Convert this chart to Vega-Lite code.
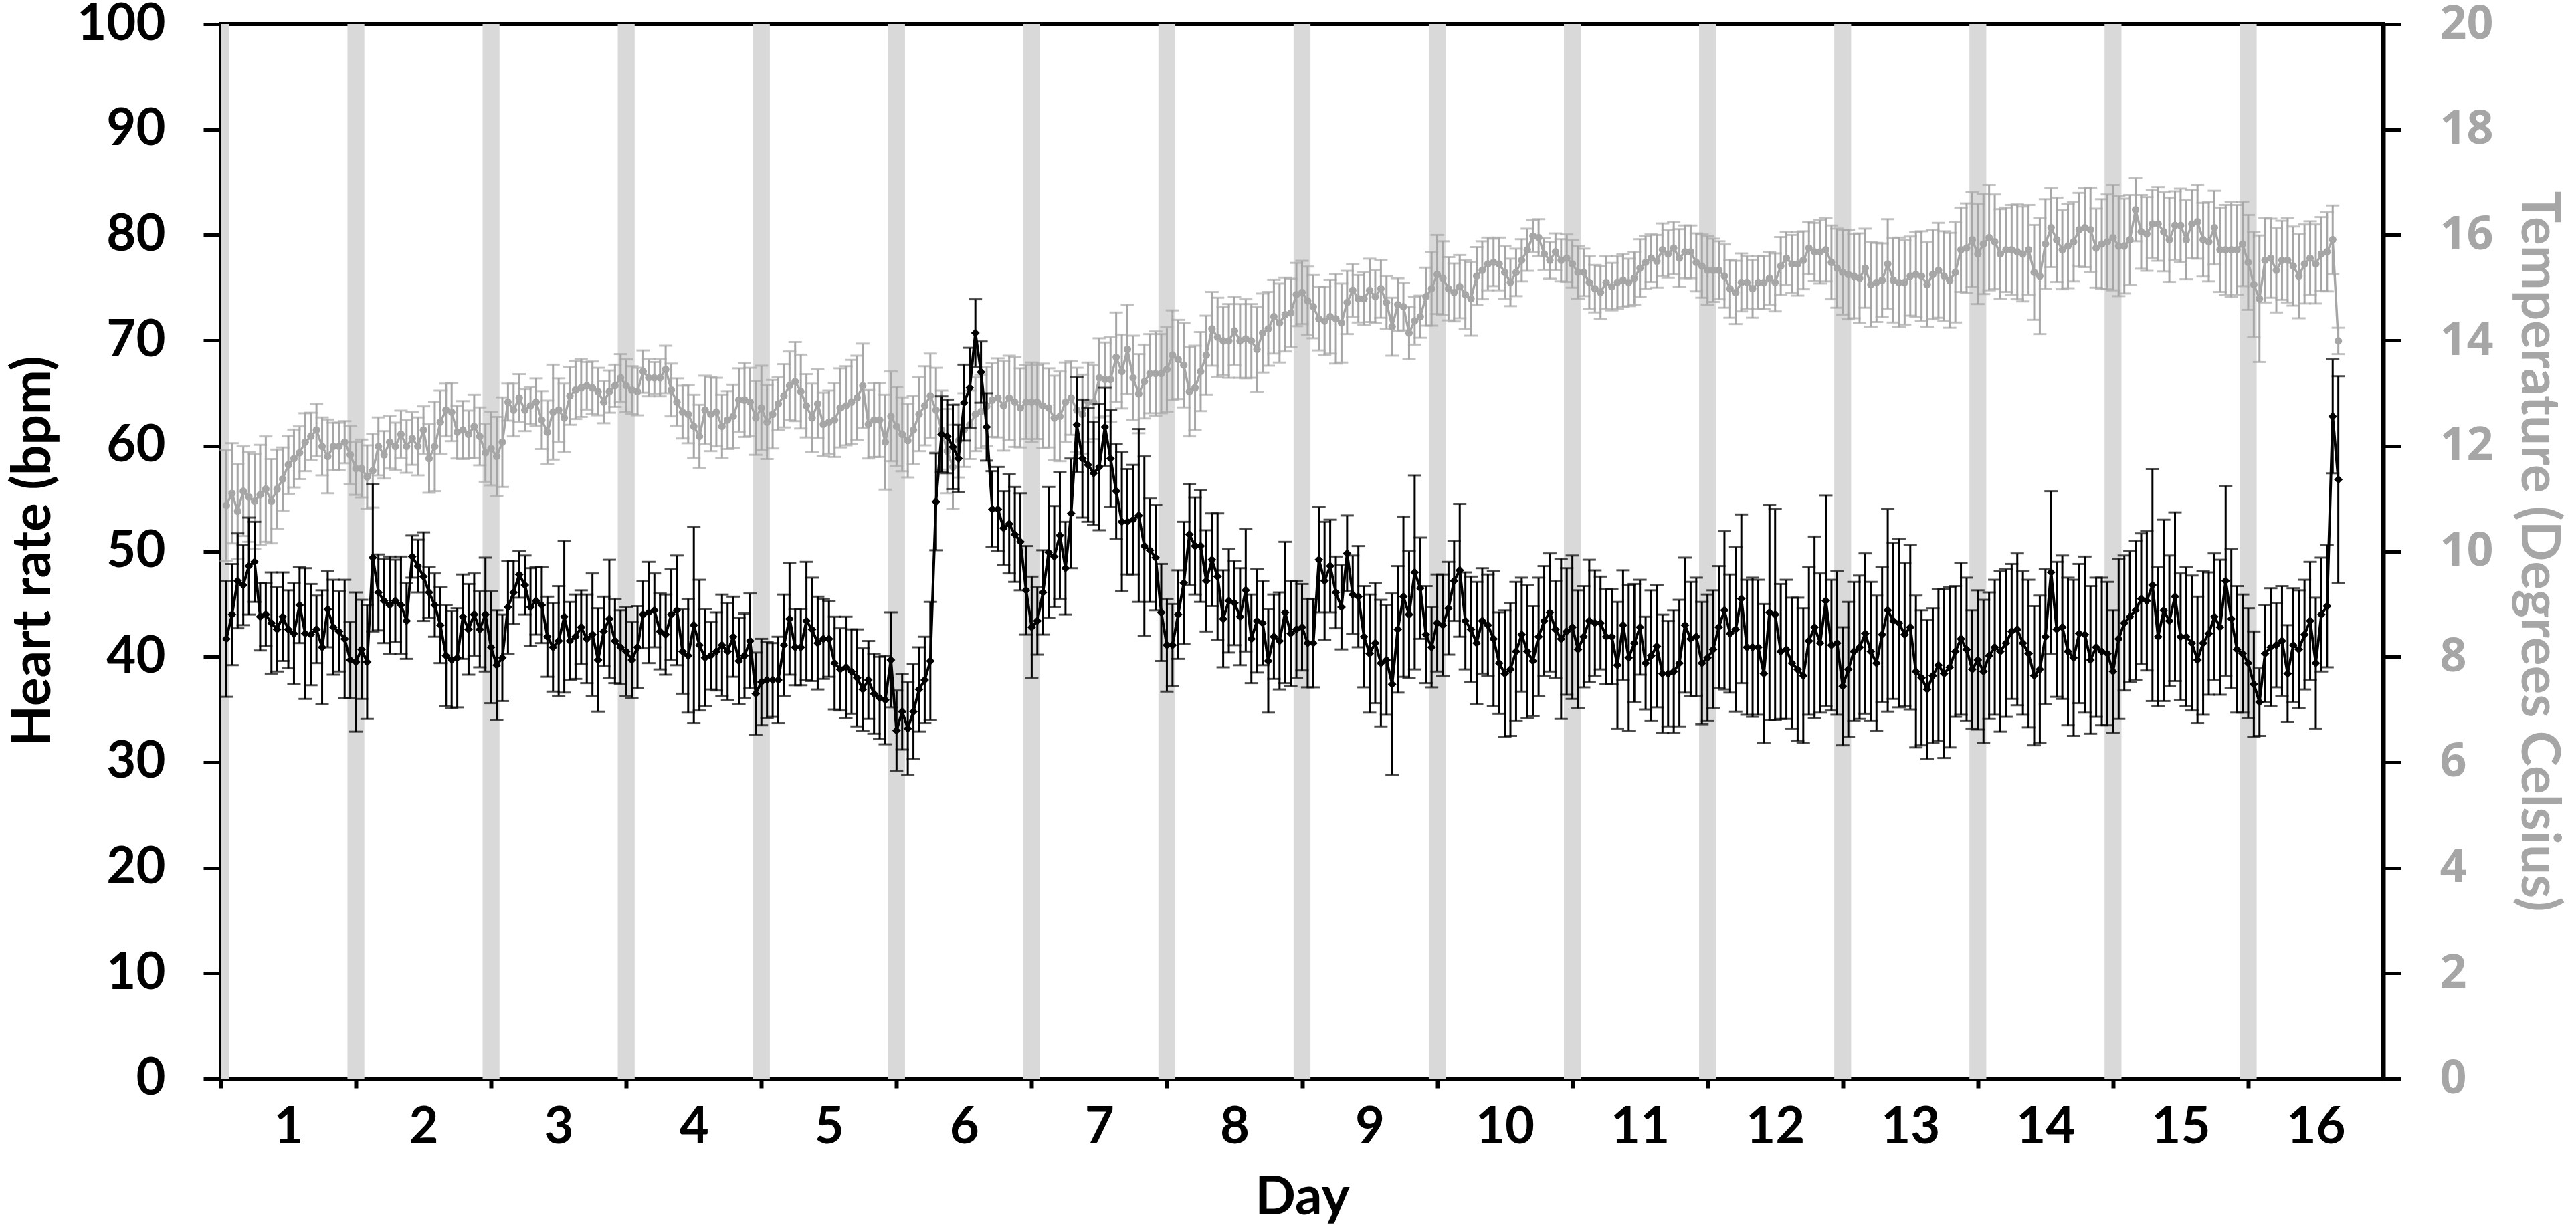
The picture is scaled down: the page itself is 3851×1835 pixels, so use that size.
{
  "$schema": "https://vega.github.io/schema/vega-lite/v6.json",
  "width": 3233,
  "height": 1577,
  "autosize": "none",
  "padding": {"left": 330, "top": 36, "right": 288, "bottom": 222},
  "background": "#ffffff",
  "config": {
    "view": {"stroke": "#000000", "strokeWidth": 6},
    "font": "Lato"
  },
  "data": {
    "values": [
      {"h":1,"hr":41.7,"he":5.5,"t":10.87,"te":1.05},{"h":2,"hr":44.0,"he":4.8,"t":11.1,"te":0.95},{"h":3,"hr":47.2,"he":4.5,"t":10.76,"te":0.9},{"h":4,"hr":46.8,"he":3.8,"t":11.14,"te":0.85},
      {"h":5,"hr":48.6,"he":4.6,"t":11.03,"te":0.85},{"h":6,"hr":49.0,"he":3.8,"t":10.95,"te":0.9},{"h":7,"hr":43.8,"he":3.2,"t":11.07,"te":0.95},{"h":8,"hr":44.0,"he":3.0,"t":11.18,"te":1.0},
      {"h":9,"hr":43.2,"he":4.8,"t":10.95,"te":0.8},{"h":10,"hr":42.6,"he":4.0,"t":11.18,"te":0.75},{"h":11,"hr":43.8,"he":4.2,"t":11.37,"te":0.6},{"h":12,"hr":42.6,"he":3.7,"t":11.64,"te":0.55},
      {"h":13,"hr":42.2,"he":4.8,"t":11.76,"te":0.55},{"h":14,"hr":44.9,"he":3.6,"t":11.87,"te":0.5},{"h":15,"hr":42.2,"he":6.2,"t":12.07,"te":0.55},{"h":16,"hr":42.1,"he":4.8,"t":12.18,"te":0.45},
      {"h":17,"hr":42.6,"he":3.2,"t":12.3,"te":0.5},{"h":18,"hr":40.9,"he":5.4,"t":11.99,"te":0.55},{"h":19,"hr":44.5,"he":3.6,"t":11.8,"te":0.7},{"h":20,"hr":42.8,"he":4.5,"t":11.99,"te":0.45},
      {"h":21,"hr":42.4,"he":3.8,"t":11.99,"te":0.45},{"h":22,"hr":41.7,"he":5.6,"t":12.07,"te":0.4},{"h":23,"hr":39.7,"he":3.6,"t":11.83,"te":0.55},{"h":24,"hr":39.5,"he":6.6,"t":11.57,"te":0.5},
      {"h":25,"hr":40.7,"he":4.7,"t":11.57,"te":0.55},{"h":26,"hr":39.5,"he":5.4,"t":11.41,"te":0.6},{"h":27,"hr":49.4,"he":7.0,"t":11.53,"te":0.7},{"h":28,"hr":46.1,"he":3.6,"t":11.99,"te":0.55},
      {"h":29,"hr":45.3,"he":4.0,"t":11.83,"te":0.45},{"h":30,"hr":44.9,"he":4.6,"t":12.07,"te":0.5},{"h":31,"hr":45.3,"he":3.9,"t":11.99,"te":0.45},{"h":32,"hr":44.9,"he":4.6,"t":12.22,"te":0.45},
      {"h":33,"hr":43.4,"he":3.6,"t":11.99,"te":0.5},{"h":34,"hr":49.5,"he":2.0,"t":12.14,"te":0.5},{"h":35,"hr":48.6,"he":2.5,"t":11.99,"te":0.55},{"h":36,"hr":47.6,"he":4.2,"t":12.3,"te":0.45},
      {"h":37,"hr":46.1,"he":2.4,"t":11.76,"te":0.65},{"h":38,"hr":44.9,"he":3.0,"t":11.99,"te":0.85},{"h":39,"hr":43.0,"he":3.6,"t":12.45,"te":0.6},{"h":40,"hr":40.1,"he":4.8,"t":12.68,"te":0.5},
      {"h":41,"hr":39.7,"he":4.6,"t":12.64,"te":0.55},{"h":42,"hr":39.9,"he":4.7,"t":12.26,"te":0.5},{"h":43,"hr":43.8,"he":4.0,"t":12.3,"te":0.55},{"h":44,"hr":42.6,"he":4.3,"t":12.22,"te":0.45},
      {"h":45,"hr":44.0,"he":3.9,"t":12.37,"te":0.6},{"h":46,"hr":42.6,"he":3.6,"t":12.18,"te":0.55},{"h":47,"hr":44.0,"he":5.4,"t":11.87,"te":0.55},{"h":48,"hr":40.9,"he":5.3,"t":11.95,"te":0.7},
      {"h":49,"hr":39.2,"he":5.2,"t":11.8,"te":0.75},{"h":50,"hr":39.9,"he":4.1,"t":12.07,"te":0.85},{"h":51,"hr":44.7,"he":4.4,"t":12.83,"te":0.35},{"h":52,"hr":46.1,"he":3.0,"t":12.68,"te":0.5},
      {"h":53,"hr":47.8,"he":2.2,"t":12.91,"te":0.45},{"h":54,"hr":46.8,"he":2.8,"t":12.68,"te":0.4},{"h":55,"hr":44.7,"he":3.7,"t":12.76,"te":0.35},{"h":56,"hr":45.3,"he":3.2,"t":12.83,"te":0.45},
      {"h":57,"hr":44.9,"he":3.6,"t":12.49,"te":0.55},{"h":58,"hr":41.9,"he":3.8,"t":12.26,"te":0.6},{"h":59,"hr":40.9,"he":4.2,"t":12.64,"te":0.9},{"h":60,"hr":41.5,"he":5.2,"t":12.68,"te":0.6},
      {"h":61,"hr":43.8,"he":7.2,"t":12.53,"te":0.65},{"h":62,"hr":41.5,"he":3.7,"t":12.95,"te":0.55},{"h":63,"hr":41.9,"he":4.0,"t":13.06,"te":0.55},{"h":64,"hr":42.8,"he":3.5,"t":13.1,"te":0.55},
      {"h":65,"hr":41.7,"he":4.2,"t":13.14,"te":0.45},{"h":66,"hr":42.1,"he":5.8,"t":13.1,"te":0.5},{"h":67,"hr":39.7,"he":4.9,"t":13.03,"te":0.45},{"h":68,"hr":42.4,"he":3.3,"t":12.83,"te":0.4},
      {"h":69,"hr":43.6,"he":5.6,"t":13.03,"te":0.4},{"h":70,"hr":41.5,"he":4.0,"t":13.14,"te":0.4},{"h":71,"hr":40.9,"he":3.5,"t":13.29,"te":0.45},{"h":72,"hr":40.5,"he":4.2,"t":13.14,"te":0.5},
      {"h":73,"hr":39.7,"he":3.6,"t":13.06,"te":0.45},{"h":74,"hr":40.9,"he":3.9,"t":13.03,"te":0.45},{"h":75,"hr":44.0,"he":3.2,"t":13.41,"te":0.4},{"h":76,"hr":44.2,"he":4.8,"t":13.29,"te":0.35},
      {"h":77,"hr":44.4,"he":3.5,"t":13.29,"te":0.3},{"h":78,"hr":42.4,"he":3.6,"t":13.29,"te":0.35},{"h":79,"hr":42.1,"he":3.8,"t":13.45,"te":0.45},{"h":80,"hr":44.0,"he":4.3,"t":13.06,"te":0.5},
      {"h":81,"hr":44.4,"he":5.2,"t":12.83,"te":0.45},{"h":82,"hr":40.5,"he":4.0,"t":12.64,"te":0.5},{"h":83,"hr":40.1,"he":5.4,"t":12.6,"te":0.55},{"h":84,"hr":43.0,"he":9.3,"t":12.37,"te":0.6},
      {"h":85,"hr":41.1,"he":6.2,"t":12.18,"te":0.6},{"h":86,"hr":39.9,"he":4.6,"t":12.68,"te":0.65},{"h":87,"hr":40.1,"he":3.2,"t":12.6,"te":0.7},{"h":88,"hr":40.5,"he":3.7,"t":12.64,"te":0.65},
      {"h":89,"hr":41.1,"he":4.8,"t":12.37,"te":0.6},{"h":90,"hr":40.5,"he":4.6,"t":12.49,"te":0.55},{"h":91,"hr":41.9,"he":3.8,"t":12.56,"te":0.6},{"h":92,"hr":39.6,"he":4.1,"t":12.87,"te":0.6},
      {"h":93,"hr":40.1,"he":4.0,"t":12.87,"te":0.7},{"h":94,"hr":41.5,"he":4.5,"t":12.83,"te":0.65},{"h":95,"hr":36.5,"he":3.9,"t":12.53,"te":0.7},{"h":96,"hr":37.6,"he":4.1,"t":12.72,"te":0.8},
      {"h":97,"hr":37.8,"he":3.6,"t":12.45,"te":0.7},{"h":98,"hr":37.8,"he":3.5,"t":12.6,"te":0.65},{"h":99,"hr":37.8,"he":4.1,"t":12.8,"te":0.5},{"h":100,"hr":41.1,"he":4.8,"t":12.95,"te":0.6},
      {"h":101,"hr":43.6,"he":5.3,"t":13.14,"te":0.65},{"h":102,"hr":40.9,"he":3.6,"t":13.22,"te":0.75},{"h":103,"hr":40.9,"he":3.6,"t":13.03,"te":0.7},{"h":104,"hr":43.4,"he":5.6,"t":12.76,"te":0.6},
      {"h":105,"hr":42.6,"he":4.9,"t":12.53,"te":0.65},{"h":106,"hr":41.3,"he":4.4,"t":12.8,"te":0.65},{"h":107,"hr":41.7,"he":3.8,"t":12.41,"te":0.6},{"h":108,"hr":41.7,"he":3.6,"t":12.45,"te":0.6},
      {"h":109,"hr":39.4,"he":4.4,"t":12.49,"te":0.7},{"h":110,"hr":38.8,"he":3.9,"t":12.72,"te":0.75},{"h":111,"hr":39.0,"he":4.8,"t":12.76,"te":0.75},{"h":112,"hr":38.6,"he":4.0,"t":12.83,"te":0.8},
      {"h":113,"hr":38.0,"he":4.6,"t":12.91,"te":0.8},{"h":114,"hr":36.9,"he":3.9,"t":13.14,"te":0.8},{"h":115,"hr":37.8,"he":3.7,"t":12.41,"te":0.65},{"h":116,"hr":36.5,"he":3.8,"t":12.49,"te":0.7},
      {"h":117,"hr":36.1,"he":3.9,"t":12.49,"te":0.7},{"h":118,"hr":35.9,"he":4.2,"t":12.07,"te":0.9},{"h":119,"hr":39.7,"he":4.5,"t":12.56,"te":0.85},{"h":120,"hr":33.0,"he":3.8,"t":12.37,"te":0.75},
      {"h":121,"hr":34.8,"he":3.6,"t":12.22,"te":0.7},{"h":122,"hr":33.2,"he":4.4,"t":12.1,"te":0.7},{"h":123,"hr":34.8,"he":4.5,"t":12.3,"te":0.65},{"h":124,"hr":36.9,"he":4.0,"t":12.6,"te":0.7},
      {"h":125,"hr":37.8,"he":4.1,"t":12.76,"te":0.75},{"h":126,"hr":39.6,"he":5.6,"t":12.95,"te":0.8},{"h":127,"hr":54.7,"he":4.6,"t":12.68,"te":0.8},{"h":128,"hr":61.1,"he":3.6,"t":12.3,"te":0.75},
      {"h":129,"hr":60.9,"he":3.5,"t":11.9,"te":0.8},{"h":130,"hr":59.9,"he":4.0,"t":11.6,"te":0.8},{"h":131,"hr":58.8,"he":3.2,"t":12.1,"te":0.7},{"h":132,"hr":64.1,"he":3.6,"t":12.3,"te":0.7},
      {"h":133,"hr":65.5,"he":3.8,"t":12.4,"te":0.65},{"h":134,"hr":70.7,"he":3.2,"t":12.6,"te":0.7},{"h":135,"hr":67.0,"he":2.9,"t":12.65,"te":0.7},{"h":136,"hr":61.8,"he":3.2,"t":12.75,"te":0.75},
      {"h":137,"hr":54.0,"he":3.6,"t":12.87,"te":0.7},{"h":138,"hr":54.0,"he":4.0,"t":12.91,"te":0.75},{"h":139,"hr":52.2,"he":3.5,"t":12.76,"te":0.85},{"h":140,"hr":52.6,"he":4.7,"t":12.91,"te":0.8},
      {"h":141,"hr":51.6,"he":4.5,"t":12.83,"te":0.85},{"h":142,"hr":50.9,"he":4.6,"t":12.72,"te":0.75},{"h":143,"hr":46.3,"he":4.2,"t":12.83,"te":0.7},{"h":144,"hr":42.8,"he":4.8,"t":12.83,"te":0.75},
      {"h":145,"hr":43.4,"he":3.2,"t":12.83,"te":0.7},{"h":146,"hr":46.1,"he":4.0,"t":12.76,"te":0.8},{"h":147,"hr":49.9,"he":6.2,"t":12.72,"te":0.75},{"h":148,"hr":49.5,"he":4.8,"t":12.53,"te":0.8},
      {"h":149,"hr":51.5,"he":6.0,"t":12.56,"te":0.85},{"h":150,"hr":48.4,"he":4.4,"t":12.83,"te":0.75},{"h":151,"hr":53.6,"he":5.2,"t":12.91,"te":0.7},{"h":152,"hr":62.0,"he":4.5,"t":12.68,"te":0.8},
      {"h":153,"hr":58.8,"he":5.6,"t":12.6,"te":0.75},{"h":154,"hr":58.2,"he":5.4,"t":12.83,"te":0.75},{"h":155,"hr":57.4,"he":4.9,"t":12.83,"te":0.7},{"h":156,"hr":58.0,"he":6.0,"t":13.29,"te":0.75},
      {"h":157,"hr":61.8,"he":3.7,"t":13.26,"te":0.7},{"h":158,"hr":58.8,"he":4.6,"t":13.26,"te":0.8},{"h":159,"hr":55.7,"he":4.5,"t":13.68,"te":0.85},{"h":160,"hr":52.8,"he":6.6,"t":13.41,"te":0.7},
      {"h":161,"hr":52.8,"he":5.0,"t":13.83,"te":0.85},{"h":162,"hr":53.0,"he":5.2,"t":13.29,"te":0.8},{"h":163,"hr":53.4,"he":8.2,"t":12.99,"te":0.75},{"h":164,"hr":50.5,"he":8.5,"t":13.22,"te":0.7},
      {"h":165,"hr":50.1,"he":4.9,"t":13.37,"te":0.75},{"h":166,"hr":49.4,"he":5.0,"t":13.37,"te":0.8},{"h":167,"hr":44.2,"he":4.6,"t":13.37,"te":0.75},{"h":168,"hr":41.1,"he":4.4,"t":13.45,"te":0.8},
      {"h":169,"hr":41.1,"he":3.9,"t":13.72,"te":0.85},{"h":170,"hr":44.0,"he":4.2,"t":13.64,"te":0.75},{"h":171,"hr":47.0,"he":5.8,"t":13.53,"te":0.8},{"h":172,"hr":51.6,"he":4.8,"t":13.03,"te":0.85},
      {"h":173,"hr":50.5,"he":4.6,"t":13.1,"te":0.8},{"h":174,"hr":50.5,"he":5.3,"t":13.41,"te":0.75},{"h":175,"hr":47.2,"he":4.8,"t":13.72,"te":0.75},{"h":176,"hr":49.2,"he":4.4,"t":14.22,"te":0.7},
      {"h":177,"hr":47.6,"he":6.0,"t":14.06,"te":0.75},{"h":178,"hr":43.6,"he":4.6,"t":13.99,"te":0.65},{"h":179,"hr":45.3,"he":4.9,"t":13.99,"te":0.7},{"h":180,"hr":45.1,"he":4.0,"t":14.18,"te":0.65},
      {"h":181,"hr":43.8,"he":4.6,"t":13.99,"te":0.7},{"h":182,"hr":46.3,"he":5.8,"t":14.03,"te":0.75},{"h":183,"hr":41.7,"he":4.2,"t":13.99,"te":0.7},{"h":184,"hr":43.4,"he":4.9,"t":13.83,"te":0.8},
      {"h":185,"hr":43.2,"he":4.0,"t":14.14,"te":0.75},{"h":186,"hr":39.6,"he":4.9,"t":14.22,"te":0.7},{"h":187,"hr":41.9,"he":4.0,"t":14.45,"te":0.7},{"h":188,"hr":41.5,"he":4.6,"t":14.33,"te":0.75},
      {"h":189,"hr":44.2,"he":6.7,"t":14.49,"te":0.7},{"h":190,"hr":42.2,"he":5.0,"t":14.52,"te":0.65},{"h":191,"hr":42.6,"he":4.6,"t":14.87,"te":0.6},{"h":192,"hr":42.8,"he":4.1,"t":14.91,"te":0.6},
      {"h":193,"hr":41.3,"he":4.2,"t":14.75,"te":0.65},{"h":194,"hr":41.3,"he":4.2,"t":14.64,"te":0.6},{"h":195,"hr":49.2,"he":5.0,"t":14.41,"te":0.6},{"h":196,"hr":47.2,"he":5.6,"t":14.37,"te":0.65},
      {"h":197,"hr":48.6,"he":4.4,"t":14.45,"te":0.7},{"h":198,"hr":46.1,"he":3.4,"t":14.41,"te":0.85},{"h":199,"hr":44.7,"he":4.0,"t":14.33,"te":0.75},{"h":200,"hr":49.8,"he":3.6,"t":14.72,"te":0.6},
      {"h":201,"hr":45.9,"he":3.7,"t":14.95,"te":0.5},{"h":202,"hr":45.7,"he":4.8,"t":14.79,"te":0.45},{"h":203,"hr":41.9,"he":4.8,"t":14.79,"te":0.5},{"h":204,"hr":40.3,"he":5.6,"t":14.95,"te":0.6},
      {"h":205,"hr":41.3,"he":5.7,"t":14.83,"te":0.5},{"h":206,"hr":39.4,"he":6.0,"t":14.98,"te":0.55},{"h":207,"hr":39.7,"he":5.2,"t":14.72,"te":0.5},{"h":208,"hr":37.4,"he":8.6,"t":14.26,"te":0.55},
      {"h":209,"hr":42.6,"he":6.0,"t":14.68,"te":0.5},{"h":210,"hr":45.7,"he":7.6,"t":14.64,"te":0.45},{"h":211,"hr":44.0,"he":6.0,"t":14.14,"te":0.5},{"h":212,"hr":48.0,"he":9.2,"t":14.37,"te":0.45},
      {"h":213,"hr":46.5,"he":4.8,"t":14.45,"te":0.4},{"h":214,"hr":42.1,"he":4.6,"t":14.83,"te":0.55},{"h":215,"hr":40.9,"he":3.8,"t":14.98,"te":0.7},{"h":216,"hr":43.2,"he":4.6,"t":15.25,"te":0.75},
      {"h":217,"hr":43.0,"he":4.8,"t":15.18,"te":0.7},{"h":218,"hr":44.6,"he":4.4,"t":14.98,"te":0.6},{"h":219,"hr":47.2,"he":3.8,"t":14.91,"te":0.55},{"h":220,"hr":48.2,"he":6.3,"t":15.02,"te":0.6},
      {"h":221,"hr":43.4,"he":4.6,"t":14.87,"te":0.65},{"h":222,"hr":42.6,"he":5.0,"t":14.79,"te":0.7},{"h":223,"hr":41.3,"he":5.8,"t":15.22,"te":0.55},{"h":224,"hr":43.4,"he":5.0,"t":15.33,"te":0.55},
      {"h":225,"hr":43.0,"he":4.8,"t":15.45,"te":0.5},{"h":226,"hr":41.7,"he":6.4,"t":15.48,"te":0.45},{"h":227,"hr":39.4,"he":4.8,"t":15.45,"te":0.5},{"h":228,"hr":38.4,"he":6.0,"t":15.29,"te":0.5},
      {"h":229,"hr":38.8,"he":6.3,"t":15.1,"te":0.45},{"h":230,"hr":40.5,"he":6.6,"t":15.29,"te":0.45},{"h":231,"hr":42.1,"he":5.4,"t":15.52,"te":0.4},{"h":232,"hr":40.5,"he":6.3,"t":15.72,"te":0.4},
      {"h":233,"hr":39.6,"he":5.2,"t":15.98,"te":0.3},{"h":234,"hr":41.9,"he":5.6,"t":15.95,"te":0.35},{"h":235,"hr":43.4,"he":5.2,"t":15.64,"te":0.3},{"h":236,"hr":44.2,"he":5.6,"t":15.52,"te":0.35},
      {"h":237,"hr":42.6,"he":4.6,"t":15.68,"te":0.35},{"h":238,"hr":41.7,"he":7.6,"t":15.52,"te":0.4},{"h":239,"hr":42.4,"he":6.0,"t":15.56,"te":0.45},{"h":240,"hr":42.8,"he":6.8,"t":15.45,"te":0.45},
      {"h":241,"hr":40.7,"he":5.6,"t":15.29,"te":0.5},{"h":242,"hr":41.9,"he":4.8,"t":15.29,"te":0.45},{"h":243,"hr":43.4,"he":5.8,"t":15.1,"te":0.5},{"h":244,"hr":43.2,"he":5.0,"t":14.98,"te":0.45},
      {"h":245,"hr":43.2,"he":4.4,"t":14.91,"te":0.5},{"h":246,"hr":41.9,"he":4.5,"t":15.1,"te":0.5},{"h":247,"hr":41.9,"he":4.5,"t":15.02,"te":0.45},{"h":248,"hr":39.2,"he":6.0,"t":15.1,"te":0.5},
      {"h":249,"hr":43.0,"he":5.2,"t":15.14,"te":0.5},{"h":250,"hr":39.9,"he":6.9,"t":15.1,"te":0.45},{"h":251,"hr":41.3,"he":5.6,"t":15.18,"te":0.5},{"h":252,"hr":42.8,"he":4.5,"t":15.37,"te":0.55},
      {"h":253,"hr":39.4,"he":4.4,"t":15.48,"te":0.5},{"h":254,"hr":40.1,"he":6.2,"t":15.56,"te":0.45},{"h":255,"hr":41.0,"he":5.8,"t":15.5,"te":0.5},{"h":256,"hr":38.4,"he":5.6,"t":15.72,"te":0.5},
      {"h":257,"hr":38.4,"he":5.0,"t":15.64,"te":0.45},{"h":258,"hr":38.6,"he":5.8,"t":15.75,"te":0.5},{"h":259,"hr":39.4,"he":6.0,"t":15.56,"te":0.55},{"h":260,"hr":43.0,"he":6.4,"t":15.68,"te":0.5},
      {"h":261,"hr":41.7,"he":5.4,"t":15.68,"te":0.5},{"h":262,"hr":41.9,"he":5.6,"t":15.48,"te":0.55},{"h":263,"hr":39.4,"he":5.8,"t":15.41,"te":0.6},{"h":264,"hr":39.9,"he":6.0,"t":15.33,"te":0.65},
      {"h":265,"hr":40.7,"he":5.6,"t":15.33,"te":0.6},{"h":266,"hr":42.8,"he":5.8,"t":15.33,"te":0.55},{"h":267,"hr":44.4,"he":7.5,"t":15.22,"te":0.6},{"h":268,"hr":42.2,"he":5.6,"t":14.98,"te":0.55},
      {"h":269,"hr":42.6,"he":7.8,"t":14.91,"te":0.6},{"h":270,"hr":45.5,"he":8.0,"t":15.1,"te":0.55},{"h":271,"hr":40.9,"he":6.4,"t":15.1,"te":0.5},{"h":272,"hr":40.9,"he":6.6,"t":14.98,"te":0.55},
      {"h":273,"hr":40.9,"he":6.4,"t":15.1,"te":0.5},{"h":274,"hr":38.4,"he":6.6,"t":15.1,"te":0.5},{"h":275,"hr":44.2,"he":10.2,"t":15.18,"te":0.5},{"h":276,"hr":44.0,"he":10.0,"t":15.1,"te":0.55},
      {"h":277,"hr":40.5,"he":6.4,"t":15.41,"te":0.55},{"h":278,"hr":40.7,"he":6.6,"t":15.56,"te":0.5},{"h":279,"hr":39.4,"he":6.2,"t":15.45,"te":0.55},{"h":280,"hr":38.8,"he":6.8,"t":15.45,"te":0.6},
      {"h":281,"hr":38.2,"he":6.4,"t":15.52,"te":0.55},{"h":282,"hr":41.5,"he":7.0,"t":15.75,"te":0.5},{"h":283,"hr":42.8,"he":8.6,"t":15.68,"te":0.55},{"h":284,"hr":41.3,"he":6.6,"t":15.68,"te":0.6},
      {"h":285,"hr":45.3,"he":10.0,"t":15.72,"te":0.6},{"h":286,"hr":41.1,"he":6.2,"t":15.48,"te":0.7},{"h":287,"hr":41.3,"he":6.8,"t":15.37,"te":0.75},{"h":288,"hr":37.2,"he":5.6,"t":15.29,"te":0.8},
      {"h":289,"hr":38.8,"he":6.4,"t":15.25,"te":0.85},{"h":290,"hr":40.5,"he":6.6,"t":15.22,"te":0.8},{"h":291,"hr":40.9,"he":6.8,"t":15.18,"te":0.85},{"h":292,"hr":42.2,"he":7.6,"t":15.37,"te":0.75},
      {"h":293,"hr":40.5,"he":6.6,"t":15.06,"te":0.8},{"h":294,"hr":39.4,"he":6.4,"t":15.1,"te":0.75},{"h":295,"hr":42.1,"he":6.4,"t":15.14,"te":0.7},{"h":296,"hr":44.4,"he":9.6,"t":15.45,"te":0.85},
      {"h":297,"hr":43.4,"he":7.4,"t":15.14,"te":0.8},{"h":298,"hr":43.2,"he":8.0,"t":15.1,"te":0.85},{"h":299,"hr":42.1,"he":6.8,"t":15.1,"te":0.8},{"h":300,"hr":42.8,"he":7.8,"t":15.22,"te":0.75},
      {"h":301,"hr":38.6,"he":7.2,"t":15.25,"te":0.8},{"h":302,"hr":38.0,"he":6.4,"t":15.22,"te":0.85},{"h":303,"hr":36.9,"he":6.6,"t":15.06,"te":0.8},{"h":304,"hr":38.2,"he":6.4,"t":15.25,"te":0.85},
      {"h":305,"hr":39.2,"he":7.2,"t":15.33,"te":0.9},{"h":306,"hr":38.4,"he":8.0,"t":15.22,"te":0.85},{"h":307,"hr":39.0,"he":7.6,"t":15.14,"te":0.9},{"h":308,"hr":40.5,"he":6.2,"t":15.29,"te":0.95},
      {"h":309,"hr":41.7,"he":7.2,"t":15.72,"te":0.8},{"h":310,"hr":40.7,"he":6.8,"t":15.75,"te":0.85},{"h":311,"hr":38.8,"he":5.6,"t":15.91,"te":0.9},{"h":312,"hr":39.7,"he":6.6,"t":15.64,"te":0.95},
      {"h":313,"hr":38.6,"he":6.8,"t":15.83,"te":0.95},{"h":314,"hr":40.1,"he":6.0,"t":15.95,"te":1.0},{"h":315,"hr":40.9,"he":6.4,"t":15.87,"te":0.9},{"h":316,"hr":40.5,"he":7.6,"t":15.64,"te":0.85},
      {"h":317,"hr":41.3,"he":7.0,"t":15.72,"te":0.8},{"h":318,"hr":42.4,"he":6.4,"t":15.72,"te":0.85},{"h":319,"hr":42.6,"he":7.2,"t":15.68,"te":0.9},{"h":320,"hr":41.3,"he":6.8,"t":15.64,"te":0.9},
      {"h":321,"hr":40.3,"he":7.0,"t":15.72,"te":0.85},{"h":322,"hr":38.2,"he":6.6,"t":15.29,"te":0.9},{"h":323,"hr":38.8,"he":7.0,"t":15.22,"te":1.1},{"h":324,"hr":41.9,"he":6.4,"t":15.83,"te":0.85},
      {"h":325,"hr":48.0,"he":7.7,"t":16.14,"te":0.75},{"h":326,"hr":42.6,"he":6.4,"t":15.91,"te":0.8},{"h":327,"hr":42.8,"he":6.8,"t":15.72,"te":0.75},{"h":328,"hr":40.5,"he":7.0,"t":15.79,"te":0.8},
      {"h":329,"hr":39.9,"he":7.4,"t":15.87,"te":0.75},{"h":330,"hr":42.2,"he":6.6,"t":16.1,"te":0.7},{"h":331,"hr":42.1,"he":7.4,"t":16.14,"te":0.75},{"h":332,"hr":39.7,"he":7.0,"t":16.1,"te":0.8},
      {"h":333,"hr":40.9,"he":6.6,"t":15.75,"te":0.75},{"h":334,"hr":40.5,"he":7.0,"t":15.83,"te":0.85},{"h":335,"hr":40.3,"he":6.8,"t":15.87,"te":0.9},{"h":336,"hr":38.6,"he":5.8,"t":15.95,"te":1.0},
      {"h":337,"hr":41.7,"he":7.6,"t":15.79,"te":0.95},{"h":338,"hr":43.2,"he":6.4,"t":15.79,"te":0.9},{"h":339,"hr":43.8,"he":6.2,"t":15.91,"te":0.85},{"h":340,"hr":44.4,"he":6.6,"t":16.48,"te":0.6},
      {"h":341,"hr":45.5,"he":6.2,"t":16.06,"te":0.7},{"h":342,"hr":45.3,"he":6.6,"t":16.02,"te":0.7},{"h":343,"hr":46.8,"he":11.0,"t":16.21,"te":0.65},{"h":344,"hr":41.9,"he":6.6,"t":16.21,"te":0.7},
      {"h":345,"hr":44.4,"he":8.6,"t":16.06,"te":0.75},{"h":346,"hr":43.4,"he":6.2,"t":15.91,"te":0.8},{"h":347,"hr":45.7,"he":8.0,"t":16.18,"te":0.65},{"h":348,"hr":41.9,"he":6.0,"t":16.18,"te":0.7},
      {"h":349,"hr":41.9,"he":6.6,"t":15.91,"te":0.75},{"h":350,"hr":41.3,"he":6.4,"t":16.21,"te":0.65},{"h":351,"hr":39.7,"he":6.0,"t":16.25,"te":0.7},{"h":352,"hr":41.3,"he":6.8,"t":15.91,"te":0.7},
      {"h":353,"hr":42.2,"he":5.8,"t":15.87,"te":0.75},{"h":354,"hr":43.8,"he":6.0,"t":16.14,"te":0.7},{"h":355,"hr":42.8,"he":6.4,"t":15.72,"te":0.8},{"h":356,"hr":47.2,"he":9.0,"t":15.72,"te":0.85},
      {"h":357,"hr":43.6,"he":6.6,"t":15.72,"te":0.9},{"h":358,"hr":40.7,"he":6.0,"t":15.72,"te":0.85},{"h":359,"hr":40.3,"he":5.6,"t":15.83,"te":0.8},{"h":360,"hr":39.4,"he":5.2,"t":15.48,"te":0.9},
      {"h":361,"hr":37.4,"he":5.0,"t":15.06,"te":1.0},{"h":362,"hr":35.7,"he":3.2,"t":14.79,"te":1.2},{"h":363,"hr":40.3,"he":4.6,"t":15.52,"te":0.8},{"h":364,"hr":40.9,"he":5.6,"t":15.56,"te":0.75},
      {"h":365,"hr":41.1,"he":4.0,"t":15.33,"te":0.8},{"h":366,"hr":41.5,"he":5.2,"t":15.52,"te":0.75},{"h":367,"hr":38.4,"he":4.6,"t":15.52,"te":0.8},{"h":368,"hr":41.1,"he":5.4,"t":15.41,"te":0.75},
      {"h":369,"hr":40.7,"he":5.6,"t":15.22,"te":0.8},{"h":370,"hr":42.1,"he":5.2,"t":15.45,"te":0.75},{"h":371,"hr":43.4,"he":5.6,"t":15.56,"te":0.7},{"h":372,"hr":39.4,"he":6.2,"t":15.45,"te":0.75},
      {"h":373,"hr":44.0,"he":5.4,"t":15.64,"te":0.7},{"h":374,"hr":44.8,"he":5.8,"t":15.68,"te":0.75},{"h":375,"hr":62.8,"he":5.4,"t":15.91,"te":0.65},{"h":376,"hr":56.8,"he":9.8,"t":13.99,"te":0.25}
    ]
  },
  "layer": [
    {
      "data": {
        "values": [
          {"from": -1.5, "to": 1.5}, {"from": 22.5, "to": 25.5}, {"from": 46.5, "to": 49.5}, {"from": 70.5, "to": 73.5},
          {"from": 94.5, "to": 97.5}, {"from": 118.5, "to": 121.5}, {"from": 142.5, "to": 145.5}, {"from": 166.5, "to": 169.5},
          {"from": 190.5, "to": 193.5}, {"from": 214.5, "to": 217.5}, {"from": 238.5, "to": 241.5}, {"from": 262.5, "to": 265.5},
          {"from": 286.5, "to": 289.5}, {"from": 310.5, "to": 313.5}, {"from": 334.5, "to": 337.5}, {"from": 358.5, "to": 361.5}
        ]
      },
      "mark": {"type": "rect", "color": "#d9d9d9", "clip": true},
      "encoding": {
        "x": {
          "field": "from",
          "type": "quantitative",
          "title": "Day",
          "scale": {"domain": [0, 384], "nice": false, "zero": false},
          "axis": {
            "title": "Day",
            "values": [0, 12, 24, 36, 48, 60, 72, 84, 96, 108, 120, 132, 144, 156, 168, 180, 192, 204, 216, 228, 240, 252, 264, 276, 288, 300, 312, 324, 336, 348, 360, 372],
            "labelExpr": "datum.value % 24 == 12 ? '' + (floor(datum.value / 24) + 1) : ''",
            "tickOpacity": {"condition": {"test": "datum.value % 24 == 0", "value": 1}, "value": 0},
            "tickSize": 14,
            "tickWidth": 6,
            "tickColor": "#000000",
            "domainColor": "#000000",
            "domainWidth": 6,
            "grid": false,
            "labelFont": "Lato",
            "labelFontWeight": "bold",
            "labelFontSize": 76,
            "labelColor": "#000000",
            "labelPadding": 22,
            "labelFlush": false,
            "labelOverlap": false,
            "titleFont": "Lato",
            "titleFontWeight": "bold",
            "titleFontSize": 80,
            "titleColor": "#000000",
            "titleY": 202,
            "titleBaseline": "alphabetic"
          }
        },
        "x2": {"field": "to"}
      }
    },
    {
      "layer": [
        {
          "mark": {"type": "errorbar", "ticks": true, "size": 20, "thickness": 3},
          "encoding": {
            "x": {"field": "h", "type": "quantitative", "title": "Day", "scale": {"domain": [0, 384], "nice": false, "zero": false}},
            "y": {"field": "t", "type": "quantitative", "title": "Temperature (Degrees Celsius)", "scale": {"domain": [0, 20], "nice": false}},
            "yError": {"field": "te"},
            "color": {"value": "#a6a6a6"}
          }
        },
        {
          "mark": {
            "type": "line",
            "color": "#a6a6a6",
            "strokeWidth": 3.5,
            "point": {"shape": "circle", "size": 125, "filled": true, "color": "#a6a6a6"}
          },
          "encoding": {
            "x": {"field": "h", "type": "quantitative", "title": "Day", "scale": {"domain": [0, 384], "nice": false, "zero": false}},
            "y": {
              "field": "t",
              "type": "quantitative",
              "title": "Temperature (Degrees Celsius)",
              "scale": {"domain": [0, 20], "nice": false},
              "axis": {
                "orient": "right",
                "title": "Temperature (Degrees Celsius)",
                "values": [0, 2, 4, 6, 8, 10, 12, 14, 16, 18, 20],
                "format": "d",
                "tickSize": 26,
                "tickWidth": 5,
                "tickColor": "#000000",
                "domainColor": "#000000",
                "domainWidth": 6,
                "grid": false,
                "labelFont": "Open Sans",
                "labelFontWeight": "bold",
                "labelFontSize": 70,
                "labelColor": "#a6a6a6",
                "labelPadding": 58,
                "labelFlush": false,
                "titleFont": "Lato",
                "titleFontWeight": "bold",
                "titleFontSize": 80,
                "titleColor": "#a6a6a6",
                "titleAngle": 90,
                "titleX": 206,
                "titleY": 788,
                "titleAlign": "center",
                "titleBaseline": "alphabetic"
              }
            }
          }
        }
      ]
    },
    {
      "layer": [
        {
          "mark": {"type": "errorbar", "ticks": true, "size": 20, "thickness": 3},
          "encoding": {
            "x": {"field": "h", "type": "quantitative", "title": "Day", "scale": {"domain": [0, 384], "nice": false, "zero": false}},
            "y": {"field": "hr", "type": "quantitative", "title": "Heart rate (bpm)", "scale": {"domain": [0, 100], "nice": false}},
            "yError": {"field": "he"},
            "color": {"value": "#000000"}
          }
        },
        {
          "mark": {
            "type": "line",
            "color": "#000000",
            "strokeWidth": 4,
            "point": {"shape": "diamond", "size": 170, "filled": true, "color": "#000000"}
          },
          "encoding": {
            "x": {"field": "h", "type": "quantitative", "title": "Day", "scale": {"domain": [0, 384], "nice": false, "zero": false}},
            "y": {
              "field": "hr",
              "type": "quantitative",
              "title": "Heart rate (bpm)",
              "scale": {"domain": [0, 100], "nice": false},
              "axis": {
                "orient": "left",
                "title": "Heart rate (bpm)",
                "values": [0, 10, 20, 30, 40, 50, 60, 70, 80, 90, 100],
                "format": "d",
                "tickSize": 26,
                "tickWidth": 5,
                "tickColor": "#000000",
                "domainColor": "#000000",
                "domainWidth": 6,
                "grid": false,
                "labelFont": "Lato",
                "labelFontWeight": "bold",
                "labelFontSize": 76,
                "labelColor": "#000000",
                "labelPadding": 57,
                "labelFlush": false,
                "titleFont": "Lato",
                "titleFontWeight": "bold",
                "titleFontSize": 80,
                "titleColor": "#000000",
                "titleAngle": -90,
                "titleX": -256,
                "titleY": 788,
                "titleAlign": "center",
                "titleBaseline": "alphabetic"
              }
            }
          }
        }
      ]
    }
  ],
  "resolve": {"scale": {"y": "independent"}, "axis": {"y": "independent"}}
}
